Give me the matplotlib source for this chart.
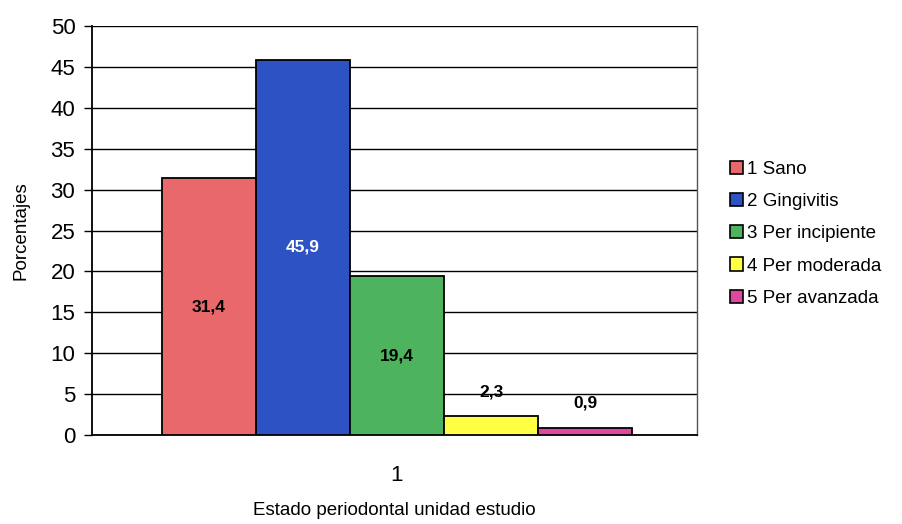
"""
Bar chart: estado periodontal por unidad de estudio.
"""

import matplotlib
matplotlib.use('Agg')
from matplotlib import pyplot as plt
from matplotlib.patches import Patch

categories = ['1 Sano', '2 Gingivitis', '3 Per incipiente', '4 Per moderada', '5 Per avanzada']
values = [31.4, 45.9, 19.4, 2.3, 0.9]
value_labels = ['31,4', '45,9', '19,4', '2,3', '0,9']
colors = ['#E8686C', '#2D52C4', '#4DB35E', '#FFFF44', '#E0479E']
label_colors = ['black', 'white', 'black', 'black', 'black']
group_label = '1'


def make_chart():
    plt.rcParams['font.family'] = ['Liberation Sans', 'DejaVu Sans']

    fig = plt.figure(figsize=(9.02, 5.24), dpi=100)
    ax = fig.add_axes([0.102, 0.170, 0.671, 0.780])

    # bars sit side by side around the single group at x = 0
    n = len(values)
    offsets = [i - (n - 1) / 2 for i in range(n)]
    bars = ax.bar(offsets, values, width=1.0, color=colors,
                  edgecolor='black', linewidth=1.3, zorder=3)

    # value labels: centred in tall bars, above the short ones
    for bar, val, txt, col in zip(bars, values, value_labels, label_colors):
        x = bar.get_x() + bar.get_width() / 2
        y = val / 2 if val > 10 else val + 3
        ax.text(x, y, txt, ha='center', va='center', fontsize=12.5,
                fontweight='bold', color=col, zorder=4)

    ax.set_xlim(-3.24, 3.19)
    ax.set_ylim(0, 50)
    ax.set_yticks(range(0, 51, 5))
    ax.set_xticks([0])
    ax.set_xticklabels([group_label])
    ax.tick_params(axis='y', labelsize=16, direction='out', length=6, width=1, pad=6)
    ax.tick_params(axis='x', labelsize=16, length=0, pad=22)
    ax.yaxis.grid(True, color='black', linewidth=1.0, zorder=0)
    ax.set_axisbelow(True)

    for side in ['left', 'bottom']:
        ax.spines[side].set_linewidth(1.3)
    ax.spines['top'].set_visible(False)
    ax.spines['right'].set_color('#555555')
    ax.spines['right'].set_linewidth(1.0)

    ax.set_ylabel('Porcentajes', fontsize=13.5)
    ax.yaxis.set_label_coords(-0.103, 0.5)
    ax.set_xlabel('Estado periodontal unidad estudio', fontsize=13.5, labelpad=11)

    handles = [Patch(facecolor=c, edgecolor='black', linewidth=1.2) for c in colors]
    fig.legend(handles, categories, loc='upper left',
               bbox_to_anchor=(0.801, 0.707), frameon=False, fontsize=13.5,
               handlelength=0.7, handleheight=0.7, handletextpad=0.2,
               labelspacing=0.8, borderaxespad=0)

    fig.savefig('out.png', dpi=100)


if __name__ == '__main__':
    make_chart()
